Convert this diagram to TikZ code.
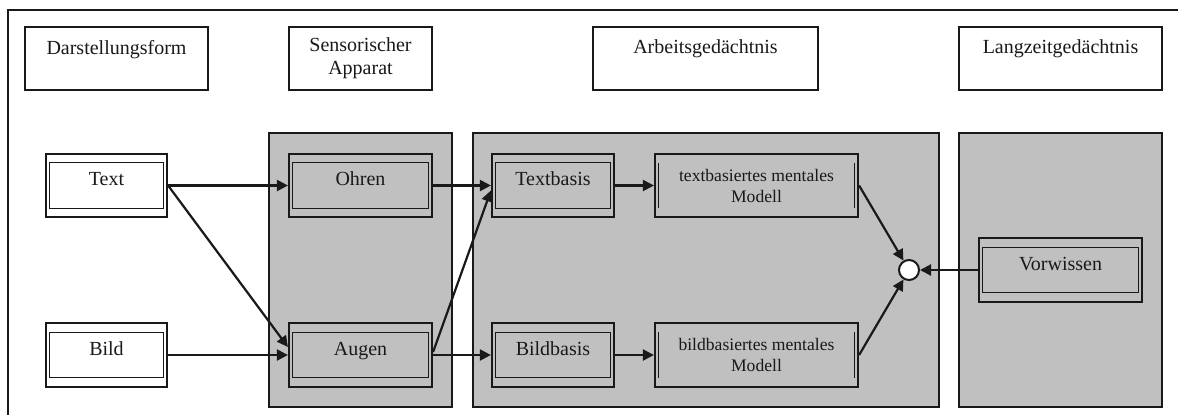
\documentclass[tikz,border=0pt]{standalone}
\usepackage{fontspec}
\setmainfont{Liberation Serif}
\usetikzlibrary{arrows.meta}
\definecolor{panelgrey}{RGB}{192,192,192}
\definecolor{ink}{RGB}{25,25,25}
\begin{document}
\begin{tikzpicture}[x=0.5pt,y=-0.5pt,
  every node/.style={text=ink},
  header/.style={draw=ink, line width=1pt, fill=white, minimum width=#1,
    minimum height=31.5pt, inner sep=0pt, align=center,
    font=\fontsize{10}{11.5}\selectfont},
  panel/.style={draw=ink, line width=1pt, fill=panelgrey, minimum width=#1,
    minimum height=137pt, inner sep=0pt},
  dbox/.style={draw=ink, line width=1.1pt, minimum width=#1, minimum height=31.75pt,
    inner sep=0pt, text height=4pt, text depth=4pt,
    font=\fontsize{10}{12}\selectfont,
    path picture={\draw[ink, line width=0.5pt]
      ([xshift=1.6pt,yshift=-4.5pt]path picture bounding box.north west) rectangle
      ([xshift=-1.8pt,yshift=4.5pt]path picture bounding box.south east);}},
  mbox/.style={draw=ink, line width=1.1pt, minimum width=#1, minimum height=31.75pt,
    inner sep=0pt, align=center, font=\fontsize{8.8}{10.5}\selectfont,
    path picture={\draw[ink, line width=0.5pt]
      ([xshift=1.6pt,yshift=-4.5pt]path picture bounding box.north west) --
      ([xshift=1.6pt,yshift=4.5pt]path picture bounding box.south west)
      ([xshift=-1.8pt,yshift=-4.5pt]path picture bounding box.north east) --
      ([xshift=-1.8pt,yshift=4.5pt]path picture bounding box.south east);}},
  conn/.style={draw=ink, line width=1.1pt, -{Triangle[length=5.5pt,width=5.5pt]}}
]
\useasboundingbox (0,0) rectangle (1178,414);

% outer frame (top and left edges)
\draw[ink, line width=1.2pt] (8,416) -- (8,10) -- (1180,10);

% column headers
\node[header=91.5pt]  (hdar) at (116.5,58.5) {Darstellungsform\\ ~};
\node[header=71.5pt]  (hsen) at (360.5,58.5) {Sensorischer\\ Apparat};
\node[header=112.5pt] (harb) at (705.5,58.5) {Arbeitsgedächtnis\\ ~};
\node[header=101.5pt] (hlan) at (1060.5,58.5) {Langzeitgedächtnis\\ ~};

% grey panels
\node[panel=91.5pt]  (psen) at (360.5,270) {};
\node[panel=233pt]   (parb) at (706,270) {};
\node[panel=101.5pt] (plan) at (1060.5,270) {};

% presentation forms
\node[dbox=60.5pt, fill=white] (text) at (106.5,185.5) {Text};
\node[dbox=60.5pt, fill=white] (bild) at (106.5,355) {Bild};

% sensory register
\node[dbox=71.5pt] (ohren) at (360.5,185.5) {Ohren};
\node[dbox=71.5pt] (augen) at (360.5,355) {Augen};

% working memory
\node[dbox=61pt] (tbasis) at (553,185.5) {Textbasis};
\node[dbox=61pt] (bbasis) at (553,355) {Bildbasis};
\node[mbox=101.5pt] (tmod) at (756.5,185.5) {textbasiertes mentales\\ Modell};
\node[mbox=101.5pt] (bmod) at (756.5,355) {bildbasiertes mentales\\ Modell};
\node[circle, draw=ink, line width=1pt, fill=white, minimum size=10pt, inner sep=0pt] (merge) at (909,270) {};

% long-term memory
\node[dbox=81.5pt] (vorw) at (1060.5,270) {Vorwissen};

% connections
\draw[conn] (text.east) -- (ohren.west);
\draw[conn] (text.east) -- ([yshift=4pt]augen.west);
\draw[conn] (bild.east) -- (augen.west);
\draw[conn] (ohren.east) -- (tbasis.west);
\draw[conn] ([yshift=1.5pt]augen.east) -- ([yshift=-2.5pt]tbasis.west);
\draw[conn] (augen.east) -- (bbasis.west);
\draw[conn] (tbasis.east) -- (tmod.west);
\draw[conn] (bbasis.east) -- (bmod.west);
\draw[conn] (tmod.east) -- (merge);
\draw[conn] (bmod.east) -- (merge);
\draw[conn] (vorw.west) -- (merge.east);
\end{tikzpicture}
\end{document}
